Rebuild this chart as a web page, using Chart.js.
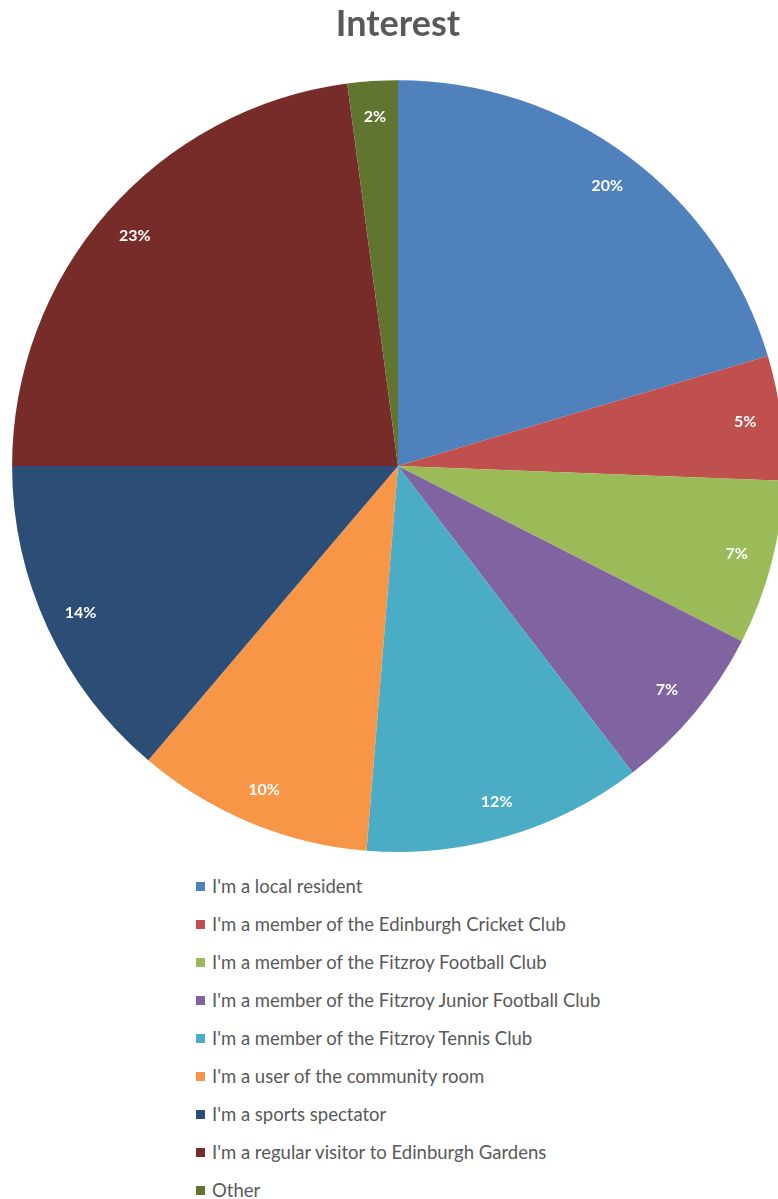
<!DOCTYPE html>
<html>
<head>
<meta charset="utf-8">
<script src="https://cdn.jsdelivr.net/npm/chart.js@4"></script>
<style>
  html, body { margin: 0; padding: 0; background: #ffffff; overflow: hidden; width: 778px; height: 1199px; }
  #wrap { position: absolute; left: 0; top: 0; width: 796px; height: 860px; }
  #legend { position: absolute; left: 196px; top: 867px; font-family: Lato, "Open Sans", sans-serif; font-size: 18.5px; color: #595959; }
  .row { height: 38px; display: flex; align-items: center; white-space: nowrap; }
  .box { width: 9px; height: 9px; margin-right: 7px; flex: none; }
</style>
</head>
<body>
<div id="wrap"><canvas id="c"></canvas></div>
<div id="legend"></div>
<script>
const categories = [
  "I'm a local resident",
  "I'm a member of the Edinburgh Cricket Club",
  "I'm a member of the Fitzroy Football Club",
  "I'm a member of the Fitzroy Junior Football Club",
  "I'm a member of the Fitzroy Tennis Club",
  "I'm a user of the community room",
  "I'm a sports spectator",
  "I'm a regular visitor to Edinburgh Gardens",
  "Other"
];
const shares = [20.4, 5.2, 6.9, 7.1, 11.7, 9.9, 13.8, 22.9, 2.1];
const colors = ["#4F81BD", "#C0504D", "#9BBB59", "#8064A2", "#4BACC6", "#F79646", "#2C4D75", "#772C2A", "#5F7530"];
const titleText = "Interest";

const labelPlugin = {
  id: 'sliceLabels',
  afterDatasetsDraw(chart) {
    const ctx = chart.ctx;
    const meta = chart.getDatasetMeta(0);
    const total = shares.reduce((a, b) => a + b, 0);
    ctx.save();
    ctx.font = 'bold 16px Lato, "Open Sans", sans-serif';
    ctx.fillStyle = '#ffffff';
    ctx.textAlign = 'center';
    ctx.textBaseline = 'middle';
    meta.data.forEach((arc, i) => {
      const p = arc.getProps(['x', 'y', 'startAngle', 'endAngle', 'outerRadius']);
      const mid = (p.startAngle + p.endAngle) / 2;
      const r = p.outerRadius - 36;
      const x = p.x + Math.cos(mid) * r;
      const y = p.y + Math.sin(mid) * r;
      ctx.fillText(Math.round(shares[i] / total * 100) + '%', x, y);
    });
    ctx.restore();
  }
};

const chart = new Chart(document.getElementById('c'), {
  type: 'pie',
  data: {
    labels: categories,
    datasets: [{
      data: shares,
      backgroundColor: colors,
      borderWidth: 0,
      offset: 0,
      hoverOffset: 0
    }]
  },
  options: {
    responsive: true,
    maintainAspectRatio: false,
    animation: false,
    events: [],
    layout: { padding: { top: 0, bottom: 8, left: 0, right: 0 } },
    plugins: {
      legend: { display: false },
      tooltip: { enabled: false },
      title: {
        display: true,
        text: titleText,
        color: '#595959',
        font: { family: 'Lato, "Open Sans", sans-serif', size: 36, weight: 'bold' },
        padding: { top: 3, bottom: 34 }
      }
    }
  },
  plugins: [labelPlugin]
});

const legend = document.getElementById('legend');
categories.forEach((name, i) => {
  const row = document.createElement('div');
  row.className = 'row';
  const box = document.createElement('span');
  box.className = 'box';
  box.style.background = colors[i];
  const txt = document.createElement('span');
  txt.textContent = name;
  row.appendChild(box);
  row.appendChild(txt);
  legend.appendChild(row);
});
</script>
</body>
</html>
